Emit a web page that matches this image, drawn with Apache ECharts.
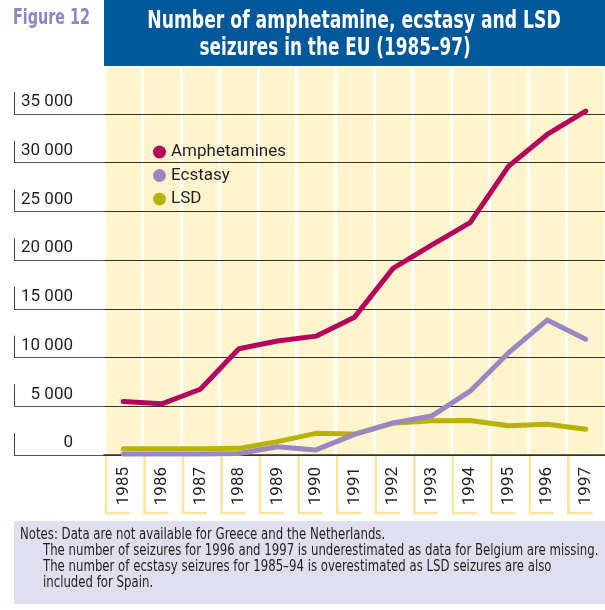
<!DOCTYPE html>
<html>
<head>
<meta charset="utf-8">
<script src="https://cdn.jsdelivr.net/npm/echarts@6/dist/echarts.min.js"></script>
<style>
  html, body { margin: 0; padding: 0; background: #ffffff; }
  #chart { width: 605px; height: 610px; }
</style>
</head>
<body>
<div id="chart"></div>
<script>
  // data
  var years = ['1985', '1986', '1987', '1988', '1989', '1990', '1991', '1992', '1993', '1994', '1995', '1996', '1997'];
  var amphetamines = [5500, 5250, 6750, 10900, 11700, 12200, 14150, 19150, 21550, 23850, 29650, 32900, 35300];
  var ecstasy = [100, 100, 100, 150, 850, 520, 2120, 3300, 4000, 6550, 10500, 13850, 11870];
  var lsd = [650, 650, 650, 680, 1370, 2220, 2150, 3250, 3520, 3540, 3010, 3150, 2640];
  var yTicks = [0, 5000, 10000, 15000, 20000, 25000, 30000, 35000];

  // no condensed face is installed, so headings get squeezed with scaleX
  var cond = "'DejaVu Sans Condensed', 'DejaVu Sans', sans-serif";
  var font = "Roboto, 'Liberation Sans', sans-serif";
  var ink = '#231f20';

  function fmt(v) {
    return String(v).replace(/\B(?=(\d{3})+(?!\d))/g, ' ');
  }

  var chart = echarts.init(document.getElementById('chart'));

  var option = {
    animation: false,
    textStyle: { fontFamily: font },
    graphic: [
      { type: 'rect', shape: { x: 104, y: 0, width: 501, height: 66 }, style: { fill: '#00579a' }, silent: true },
      { type: 'text', x: 13, y: 8, scaleX: 0.76, style: { text: 'Figure 12', font: 'bold 21px ' + cond, fill: '#8a87c6' } },
      { type: 'text', x: 354, y: 9, scaleX: 0.765, style: { text: 'Number of amphetamine, ecstasy and LSD', font: 'bold 25px ' + cond, fill: '#ffffff', align: 'center' } },
      { type: 'text', x: 335, y: 36, scaleX: 0.75, style: { text: 'seizures in the EU (1985\u201397)', font: 'bold 25px ' + cond, fill: '#ffffff', align: 'center' } },
      { type: 'rect', shape: { x: 14, y: 521, width: 591, height: 83 }, style: { fill: '#dfdff0' }, silent: true },
      { type: 'text', x: 20, y: 528, scaleX: 0.87, style: { text: 'Notes: Data are not available for Greece and the Netherlands.', font: '15px ' + cond, fill: ink } },
      { type: 'text', x: 43, y: 544, scaleX: 0.87, style: { text: 'The number of seizures for 1996 and 1997 is underestimated as data for Belgium are missing.', font: '15px ' + cond, fill: ink } },
      { type: 'text', x: 43, y: 560, scaleX: 0.87, style: { text: 'The number of ecstasy seizures for 1985\u201394 is overestimated as LSD seizures are also', font: '15px ' + cond, fill: ink } },
      { type: 'text', x: 43, y: 576, scaleX: 0.87, style: { text: 'included for Spain.', font: '15px ' + cond, fill: ink } }
    ],
    legend: {
      orient: 'vertical',
      left: 148,
      top: 137,
      icon: 'circle',
      itemWidth: 13,
      itemHeight: 13,
      itemGap: 3.5,
      data: ['Amphetamines', 'Ecstasy', 'LSD'],
      textStyle: { fontFamily: font, fontSize: 17, color: ink, lineHeight: 20 }
    },
    grid: [
      // yellow striped backdrop
      { left: 104, right: 0, top: 68, height: 387, show: true, backgroundColor: '#fef5cf', borderWidth: 0 },
      // left strip carrying the tick labels
      { left: 14, width: 90, top: 114, height: 341 },
      // main plot
      { left: 104, right: 0, top: 114, height: 341 }
    ],
    xAxis: [
      {
        gridIndex: 0, type: 'category', data: years, boundaryGap: true,
        axisLine: { show: false }, axisTick: { show: false }, axisLabel: { show: false },
        splitLine: { show: true, interval: 0, lineStyle: { color: '#ffffff', width: 3 } }
      },
      {
        gridIndex: 1, type: 'value', min: 0, max: 1, show: false
      },
      {
        gridIndex: 2, type: 'category', data: years, boundaryGap: true, z: 3,
        axisLine: { show: true, lineStyle: { color: '#333333', width: 1.5 } },
        axisTick: { show: false },
        axisLabel: { rotate: 90, margin: 12, fontSize: 17, color: ink, fontFamily: font, interval: 0 },
        splitLine: { show: false }
      }
    ],
    yAxis: [
      { gridIndex: 0, type: 'value', min: 0, max: 1, show: false },
      {
        gridIndex: 1, type: 'value', min: 0, max: 35000, interval: 5000, z: 2,
        axisLine: { show: false }, axisTick: { show: false },
        splitLine: { show: true, lineStyle: { color: '#555555', width: 1 } },
        axisLabel: {
          inside: true, margin: 0, align: 'left', verticalAlign: 'bottom',
          formatter: function (v) { return '{b|}{v|' + fmt(v) + '}'; },
          rich: {
            b: { width: 1, height: 22, backgroundColor: '#444444' },
            v: { width: 58, height: 22, lineHeight: 22, align: 'right', fontSize: 17, color: ink, fontFamily: font, padding: [0, 0, 2, 0] }
          }
        }
      },
      {
        gridIndex: 2, type: 'value', min: 0, max: 35000, interval: 5000, z: 2,
        axisLine: { show: false }, axisTick: { show: false }, axisLabel: { show: false },
        splitLine: { show: true, lineStyle: { color: '#333333', width: 1 } }
      }
    ],
    series: [
      {
        // gold brackets under the category axis
        type: 'custom', xAxisIndex: 2, yAxisIndex: 2, clip: false, silent: true, z: 1,
        data: years.map(function (y, i) { return [i, 0]; }),
        renderItem: function (params, api) {
          var p = api.coord([api.value(0), 0]);
          var w = api.size([1, 0])[0];
          var x0 = p[0] - w / 2 + 2;
          return {
            type: 'polyline',
            shape: { points: [[x0, p[1] + 1], [x0, p[1] + 58], [x0 + 24, p[1] + 58]] },
            style: { stroke: '#fde49c', lineWidth: 2.5, fill: null }
          };
        }
      },
      {
        name: 'LSD', type: 'line', xAxisIndex: 2, yAxisIndex: 2, data: lsd,
        showSymbol: false, clip: false, color: '#b7b300',
        lineStyle: { width: 5, cap: 'round', join: 'round' }
      },
      {
        name: 'Ecstasy', type: 'line', xAxisIndex: 2, yAxisIndex: 2, data: ecstasy,
        showSymbol: false, clip: false, color: '#9b86c0',
        lineStyle: { width: 5, cap: 'round', join: 'round' }
      },
      {
        name: 'Amphetamines', type: 'line', xAxisIndex: 2, yAxisIndex: 2, data: amphetamines,
        showSymbol: false, clip: false, color: '#b5005c',
        lineStyle: { width: 5, cap: 'round', join: 'round' }
      }
    ]
  };

  chart.setOption(option);
</script>
</body>
</html>
